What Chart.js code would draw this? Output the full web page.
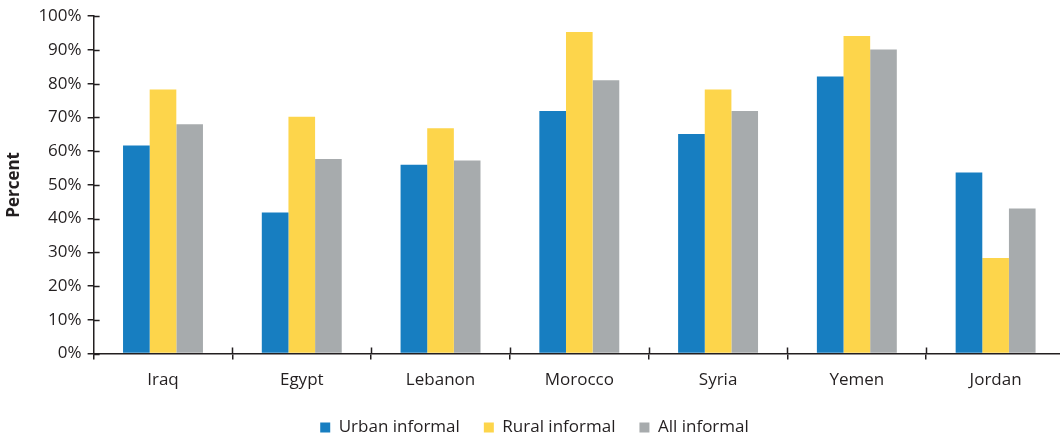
<!DOCTYPE html>
<html>
<head>
<meta charset="utf-8">
<script src="https://cdn.jsdelivr.net/npm/chart.js@4/dist/chart.umd.min.js"></script>
<style>
  html, body { margin: 0; padding: 0; background: #fff; overflow: hidden; }
  #wrap { width: 1065px; height: 439px; }
</style>
</head>
<body>
<div id="wrap"><canvas id="informalChart"></canvas></div>
<script>
// countries and shares of informal workers (%)
const countries = ["Iraq", "Egypt", "Lebanon", "Morocco", "Syria", "Yemen", "Jordan"];
const urbanInformal = [61.7, 41.8, 56.0, 71.9, 65.1, 82.1, 53.7];
const ruralInformal = [78.3, 70.2, 66.8, 95.3, 78.3, 94.1, 28.3];
const allInformal = [68.0, 57.7, 57.2, 81.0, 71.9, 90.1, 43.0];
const yTicks = [0, 10, 20, 30, 40, 50, 60, 70, 80, 90, 100];

const ink = "#231f20";
const tickLen = 6;

// ticks that cross the axis line: Chart.js draws the outer half, this adds the inner half
const crossTicks = {
  id: "crossTicks",
  afterDraw(chart) {
    const { ctx, chartArea, scales } = chart;
    ctx.save();
    ctx.strokeStyle = ink;
    ctx.lineWidth = 1.5;
    ctx.beginPath();
    scales.y.ticks.forEach((t, i) => {
      const y = Math.round(scales.y.getPixelForTick(i)) + 0.5;
      ctx.moveTo(chartArea.left, y);
      ctx.lineTo(chartArea.left + tickLen, y);
    });
    const step = scales.x.getPixelForValue(1) - scales.x.getPixelForValue(0);
    for (let i = 1; i < countries.length; i++) {
      const x = Math.round(scales.x.getPixelForValue(i) - step / 2) + 0.5;
      ctx.moveTo(x, chartArea.bottom);
      ctx.lineTo(x, chartArea.bottom - tickLen);
    }
    ctx.stroke();
    ctx.restore();
  },
};

Chart.defaults.font.family = "'Open Sans', 'Noto Sans', sans-serif";
Chart.defaults.color = ink;

new Chart(document.getElementById("informalChart"), {
  type: "bar",
  data: {
    labels: countries,
    datasets: [
      { label: "Urban informal", data: urbanInformal, backgroundColor: "#177ec1" },
      { label: "Rural informal", data: ruralInformal, backgroundColor: "#fdd54b" },
      { label: "All informal", data: allInformal, backgroundColor: "#a7abad" },
    ],
  },
  options: {
    responsive: true,
    maintainAspectRatio: false,
    animation: false,
    layout: { padding: { top: 12, right: 0, bottom: -7, left: 4 } },
    datasets: {
      bar: { barPercentage: 1, categoryPercentage: 0.576, borderWidth: 0 },
    },
    scales: {
      x: {
        grid: {
          display: true,
          offset: true,
          drawOnChartArea: false,
          drawTicks: true,
          tickLength: tickLen,
          color: ink,
          lineWidth: 1.5,
        },
        border: { display: true, color: ink, width: 1.5 },
        ticks: { font: { size: 17 }, padding: 10 },
        // tighten the gap between the country names and the legend
        afterFit(scale) {
          scale.height -= 5;
        },
      },
      y: {
        min: 0,
        max: 100,
        afterBuildTicks(axis) {
          axis.ticks = yTicks.map((v) => ({ value: v }));
        },
        grid: {
          display: true,
          drawOnChartArea: false,
          drawTicks: true,
          tickLength: tickLen,
          color: ink,
          lineWidth: 1.5,
        },
        border: { display: true, color: ink, width: 1.5 },
        ticks: {
          font: { size: 17 },
          padding: 6,
          callback: (v) => v + "%",
        },
        title: {
          display: true,
          text: "Percent",
          font: { size: 17, weight: "bold" },
          padding: { top: 0, bottom: 8 },
        },
      },
    },
    plugins: {
      legend: {
        position: "bottom",
        labels: {
          boxWidth: 10,
          boxHeight: 10,
          padding: 24,
          font: { size: 17 },
          color: ink,
        },
      },
      tooltip: { enabled: false },
    },
  },
  plugins: [crossTicks],
});
</script>
</body>
</html>
